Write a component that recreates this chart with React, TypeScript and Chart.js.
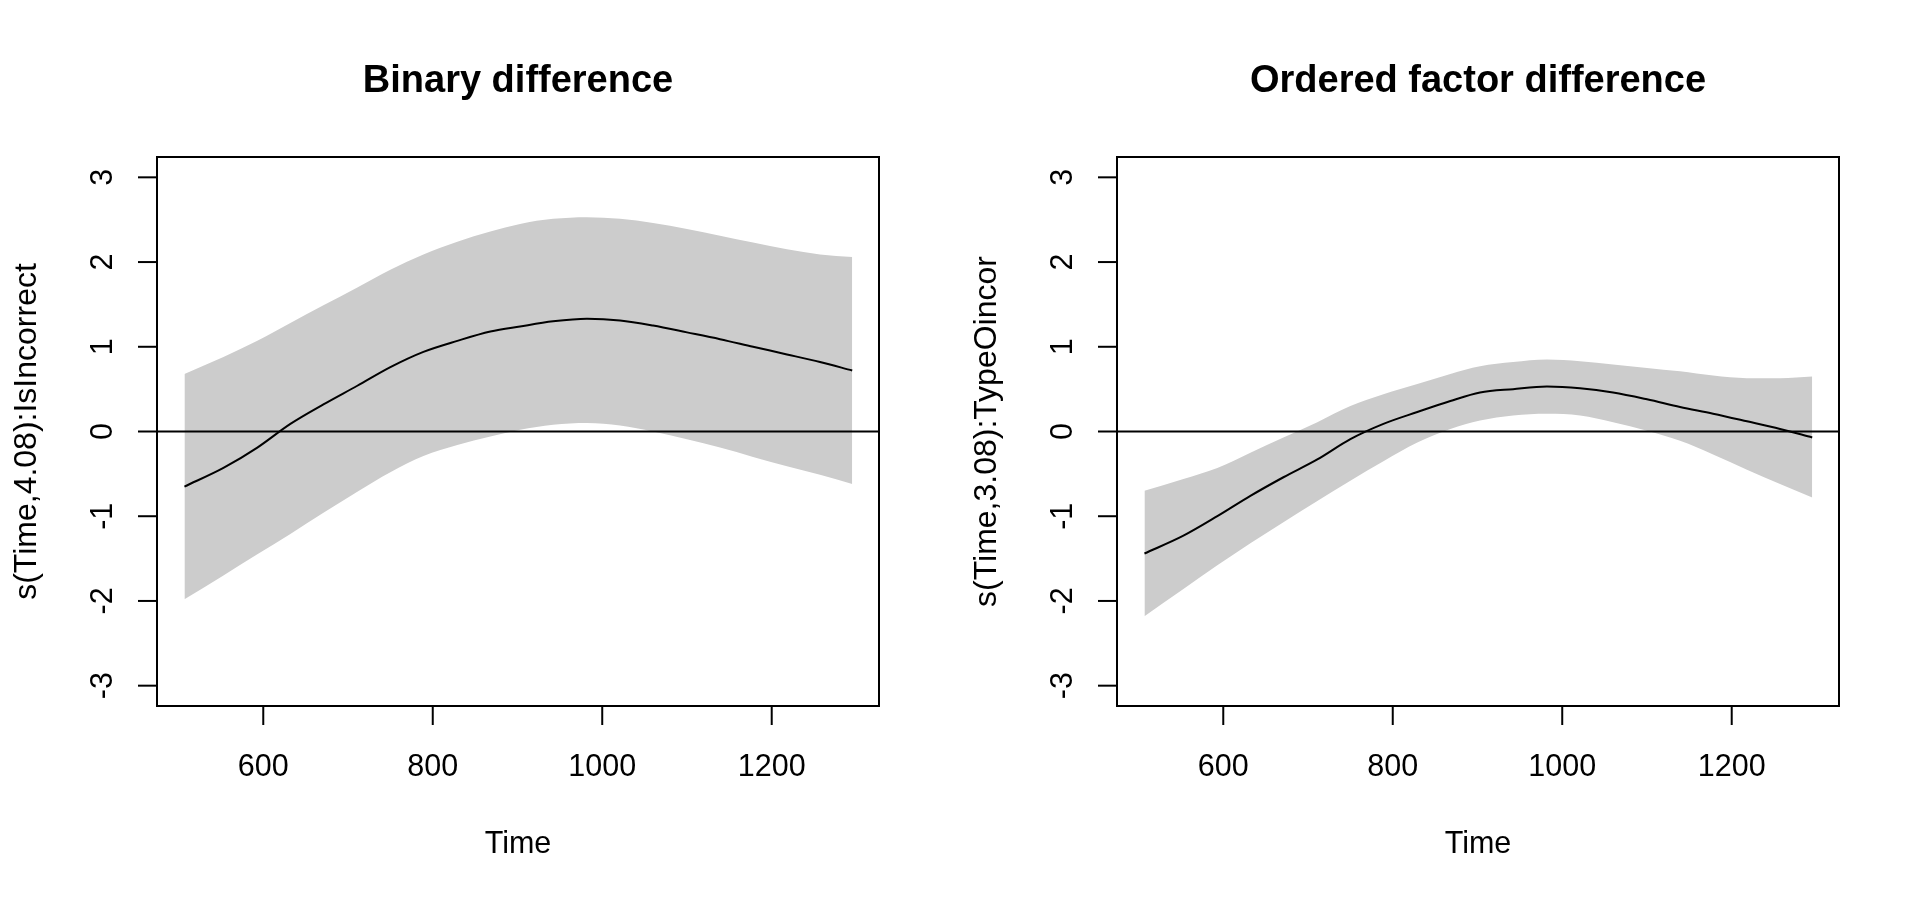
import React, { useEffect, useRef } from "react";
import { Chart, registerables } from "chart.js";

Chart.register(...registerables);

// Time grid (x values shared by both panels)
const timeGrid = [507, 553, 593, 632, 671, 711, 750, 789, 829, 868, 903, 942, 982, 1021, 1060, 1100, 1139, 1178, 1218, 1257, 1295];

// Binary difference panel
const binaryFit = [-0.65, -0.43, -0.19, 0.09, 0.32, 0.54, 0.76, 0.94, 1.07, 1.18, 1.24, 1.30, 1.33, 1.31, 1.25, 1.17, 1.09, 1.00, 0.91, 0.82, 0.72];
const binaryUpper = [0.68, 0.88, 1.07, 1.28, 1.49, 1.70, 1.91, 2.09, 2.24, 2.36, 2.45, 2.51, 2.53, 2.51, 2.46, 2.39, 2.31, 2.23, 2.15, 2.09, 2.06];
const binaryLower = [-1.98, -1.70, -1.45, -1.21, -0.96, -0.71, -0.48, -0.29, -0.16, -0.06, 0.02, 0.08, 0.10, 0.07, 0.0, -0.09, -0.19, -0.30, -0.41, -0.51, -0.62];

// Ordered factor difference panel
const orderedFit = [-1.44, -1.23, -1.0, -0.76, -0.54, -0.33, -0.09, 0.09, 0.23, 0.36, 0.46, 0.50, 0.53, 0.51, 0.46, 0.38, 0.29, 0.21, 0.12, 0.03, -0.07];
const orderedUpper = [-0.70, -0.56, -0.43, -0.25, -0.07, 0.11, 0.30, 0.44, 0.56, 0.68, 0.77, 0.82, 0.85, 0.83, 0.79, 0.75, 0.71, 0.66, 0.63, 0.63, 0.65];
const orderedLower = [-2.18, -1.86, -1.58, -1.32, -1.07, -0.82, -0.58, -0.35, -0.13, 0.03, 0.13, 0.19, 0.21, 0.19, 0.11, 0.01, -0.11, -0.27, -0.45, -0.62, -0.78];

// Axes
const xTicks = [600, 800, 1000, 1200];
const yTicks = [-3, -2, -1, 0, 1, 2, 3];
const xLimits = [474.6, 1326.6];
const yLimits = [-3.24, 3.24];
const xLabel = "Time";

const titles = ["Binary difference", "Ordered factor difference"];
const yLabels = ["s(Time,4.08):IsIncorrect", "s(Time,3.08):TypeOincor"];

const FONT = '"Liberation Sans", Arial, Helvetica, sans-serif';
const BAND = "#CCCCCC";

type PanelProps = {
  title: string;
  ylab: string;
  fit: number[];
  upper: number[];
  lower: number[];
  left: number;
};

function Panel({ title, ylab, fit, upper, lower, left }: PanelProps) {
  const ref = useRef<HTMLCanvasElement | null>(null);

  useEffect(() => {
    if (!ref.current) return;
    const pts = (ys: number[]) => timeGrid.map((x, i) => ({ x, y: ys[i] }));

    const decor = {
      id: "rdecor",
      afterDatasetsDraw(chart: any) {
        const { ctx, chartArea: a, scales } = chart;
        const xs = scales.x;
        const ys = scales.y;
        ctx.save();
        ctx.strokeStyle = "#000";
        ctx.fillStyle = "#000";
        ctx.lineWidth = 2;

        // horizontal reference line at 0
        const y0 = ys.getPixelForValue(0);
        ctx.beginPath();
        ctx.moveTo(a.left, y0);
        ctx.lineTo(a.right, y0);
        ctx.stroke();

        // box
        ctx.strokeRect(a.left, a.top, a.right - a.left, a.bottom - a.top);

        const tick = 19;
        // x ticks
        ctx.font = `30.5px ${FONT}`;
        ctx.textAlign = "center";
        ctx.textBaseline = "alphabetic";
        xTicks.forEach((t) => {
          const px = xs.getPixelForValue(t);
          ctx.beginPath();
          ctx.moveTo(px, a.bottom);
          ctx.lineTo(px, a.bottom + tick);
          ctx.stroke();
          ctx.fillText(String(t), px, a.bottom + 70);
        });
        // y ticks
        yTicks.forEach((t) => {
          const py = ys.getPixelForValue(t);
          ctx.beginPath();
          ctx.moveTo(a.left, py);
          ctx.lineTo(a.left - tick, py);
          ctx.stroke();
          ctx.save();
          ctx.translate(a.left - 45, py);
          ctx.rotate(-Math.PI / 2);
          ctx.fillText(String(t), 0, 0);
          ctx.restore();
        });

        // x label
        const cx = (a.left + a.right) / 2;
        const cy = (a.top + a.bottom) / 2;
        ctx.fillText(xLabel, cx, a.bottom + 147);

        // y label
        ctx.save();
        ctx.font = `32px ${FONT}`;
        ctx.translate(a.left - 121, cy);
        ctx.rotate(-Math.PI / 2);
        ctx.fillText(ylab, 0, 0);
        ctx.restore();

        // title
        ctx.font = `bold 38px ${FONT}`;
        ctx.fillText(title, cx, 92);

        ctx.restore();
      },
    };

    const chart = new Chart(ref.current, {
      type: "line",
      data: {
        datasets: [
          {
            data: pts(upper),
            order: 2,
            borderWidth: 0,
            borderColor: "rgba(0,0,0,0)",
            backgroundColor: BAND,
            pointRadius: 0,
            fill: "+1",
            cubicInterpolationMode: "monotone",
          },
          {
            data: pts(lower),
            order: 3,
            borderWidth: 0,
            borderColor: "rgba(0,0,0,0)",
            backgroundColor: BAND,
            pointRadius: 0,
            fill: false,
            cubicInterpolationMode: "monotone",
          },
          {
            data: pts(fit),
            order: 0,
            borderWidth: 2,
            borderColor: "#000",
            pointRadius: 0,
            fill: false,
            cubicInterpolationMode: "monotone",
          },
        ],
      },
      options: {
        animation: false,
        responsive: false,
        devicePixelRatio: 1,
        layout: { padding: { left: 157, top: 157, right: 81, bottom: 196 } },
        plugins: {
          legend: { display: false },
          tooltip: { enabled: false },
          title: { display: false },
        },
        events: [],
        scales: {
          x: { type: "linear", min: xLimits[0], max: xLimits[1], display: false },
          y: { type: "linear", min: yLimits[0], max: yLimits[1], display: false },
        },
      },
      plugins: [decor],
    } as any);
    return () => chart.destroy();
  }, []);

  return (
    <canvas
      ref={ref}
      width={960}
      height={902}
      style={{ position: "absolute", left, top: 0, width: 960, height: 902 }}
    />
  );
}

export default function App() {
  return (
    <div style={{ position: "fixed", left: 0, top: 0, width: 1920, height: 902, background: "#fff", overflow: "hidden" }}>
      <Panel title={titles[0]} ylab={yLabels[0]} fit={binaryFit} upper={binaryUpper} lower={binaryLower} left={0} />
      <Panel title={titles[1]} ylab={yLabels[1]} fit={orderedFit} upper={orderedUpper} lower={orderedLower} left={960} />
    </div>
  );
}
